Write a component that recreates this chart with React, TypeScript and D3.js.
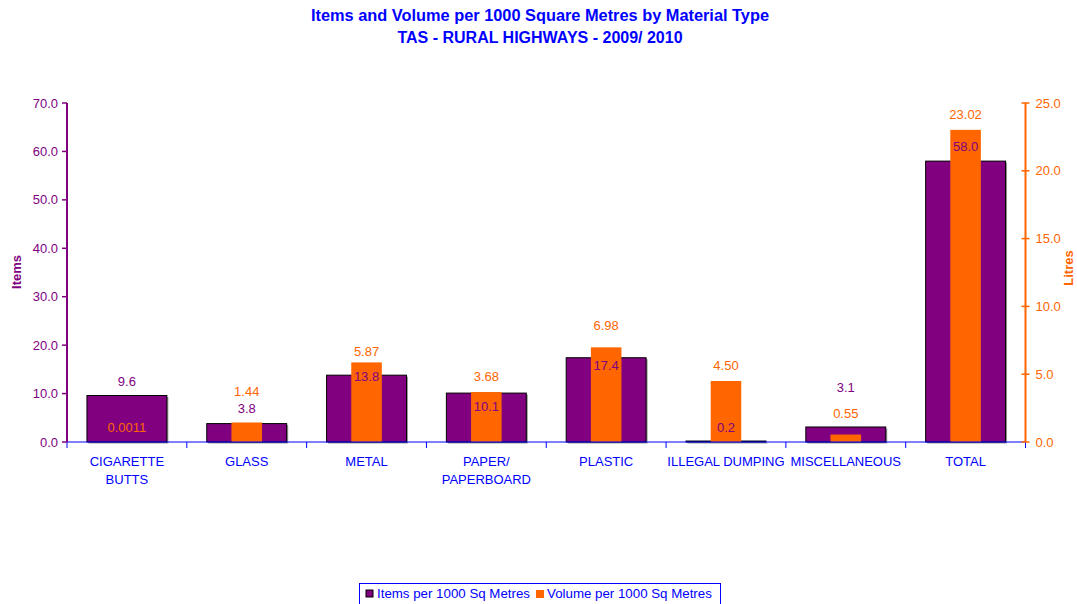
import React from "react";
import * as d3 from "d3";

const categories = [
  ["CIGARETTE", "BUTTS"],
  ["GLASS"],
  ["METAL"],
  ["PAPER/", "PAPERBOARD"],
  ["PLASTIC"],
  ["ILLEGAL DUMPING"],
  ["MISCELLANEOUS"],
  ["TOTAL"],
];
const itemsValues = [9.6, 3.8, 13.8, 10.1, 17.4, 0.2, 3.1, 58.0];
const volumeValues = [0.0011, 1.44, 5.87, 3.68, 6.98, 4.5, 0.55, 23.02];
const itemsLabels = ["9.6", "3.8", "13.8", "10.1", "17.4", "0.2", "3.1", "58.0"];
const volumeLabels = ["0.0011", "1.44", "5.87", "3.68", "6.98", "4.50", "0.55", "23.02"];
const leftTicks = [0, 10, 20, 30, 40, 50, 60, 70];
const rightTicks = [0, 5, 10, 15, 20, 25];

// label placement offsets (px above the bar top), styling only
const itemsLabelLift = [14, 15, -1, -13, -8, 14, 39, 15];
const volumeLabelLift = [14, 31, 11, 16, 22, 15, 21, 15];

const PURPLE = "#800080";
const ORANGE = "#FF6600";
const BLUE = "#0000FF";
const FONT = "'Liberation Sans', Arial, sans-serif";

export default function App() {
  const W = 1077, H = 604;
  const left = 67, right = 1025.5, top = 103, bottom = 442;
  const x = d3.scaleBand<number>().domain(d3.range(categories.length)).range([left, right]).padding(0);
  const yL = d3.scaleLinear().domain([0, 70]).range([bottom, top]);
  const yR = d3.scaleLinear().domain([0, 25]).range([bottom, top]);
  const bw = x.bandwidth();
  const itemW = bw * 0.667;
  const volW = bw * 0.255;

  return (
    <div style={{ position: "absolute", left: 0, top: 0, margin: 0 }}>
      <svg width={W} height={H} style={{ display: "block", fontFamily: FONT }}>
        <rect width={W} height={H} fill="#fff" />
        <text x={540} y={21} textAnchor="middle" fill={BLUE} fontWeight="bold" fontSize={16} textLength={458} lengthAdjust="spacingAndGlyphs">
          Items and Volume per 1000 Square Metres by Material Type
        </text>
        <text x={540} y={43} textAnchor="middle" fill={BLUE} fontWeight="bold" fontSize={16}>
          TAS - RURAL HIGHWAYS - 2009/ 2010
        </text>

        {/* bars */}
        {itemsValues.map((v, i) => {
          const cx = (x(i) as number) + bw / 2;
          return (
            <g key={"i" + i}>
              <rect x={cx - itemW / 2 + 1.5} y={yL(v) + 1.5} width={itemW} height={bottom - yL(v)} fill="#9a9a9a" />
              <rect x={cx - itemW / 2} y={yL(v)} width={itemW} height={bottom - yL(v)} fill={PURPLE} stroke="#000" strokeWidth={1} />
            </g>
          );
        })}
        {volumeValues.map((v, i) => {
          const cx = (x(i) as number) + bw / 2;
          return <rect key={"v" + i} x={cx - volW / 2} y={yR(v)} width={volW} height={bottom - yR(v)} fill={ORANGE} />;
        })}

        {/* x axis */}
        <line x1={left} x2={right} y1={bottom} y2={bottom} stroke={BLUE} strokeWidth={1} />
        {d3.range(categories.length + 1).map((i) => {
          const xx = i < categories.length ? (x(i) as number) : right;
          return <line key={"xt" + i} x1={xx} x2={xx} y1={bottom} y2={bottom + 6} stroke={BLUE} />;
        })}
        {categories.map((lines, i) => {
          const cx = (x(i) as number) + bw / 2;
          return (
            <text key={"c" + i} x={cx} textAnchor="middle" fill={BLUE} fontSize={13}>
              {lines.map((l, j) => (
                <tspan key={j} x={cx} y={466 + j * 18}>{l}</tspan>
              ))}
            </text>
          );
        })}

        {/* left axis */}
        <line x1={left} x2={left} y1={top} y2={bottom} stroke={PURPLE} strokeWidth={2} />
        {leftTicks.map((t) => (
          <g key={"l" + t}>
            <line x1={left - 5} x2={left} y1={yL(t)} y2={yL(t)} stroke={PURPLE} strokeWidth={1.5} />
            <text x={left - 9} y={yL(t) + 4.5} textAnchor="end" fill={PURPLE} fontSize={13}>{t.toFixed(1)}</text>
          </g>
        ))}
        <text transform={`translate(21,272) rotate(-90)`} textAnchor="middle" fill={PURPLE} fontWeight="bold" fontSize={13}>Items</text>

        {/* right axis */}
        <line x1={right} x2={right} y1={top} y2={bottom} stroke={ORANGE} strokeWidth={2} />
        {rightTicks.map((t) => (
          <g key={"r" + t}>
            <line x1={right - 4} x2={right + 4} y1={yR(t)} y2={yR(t)} stroke={ORANGE} strokeWidth={1.5} />
            <text x={right + 10} y={yR(t) + 4.5} textAnchor="start" fill={ORANGE} fontSize={13}>{t.toFixed(1)}</text>
          </g>
        ))}
        <text transform={`translate(1073,268) rotate(-90)`} textAnchor="middle" fill={ORANGE} fontWeight="bold" fontSize={13}>Litres</text>

        {/* data labels */}
        {itemsValues.map((v, i) => {
          const cx = (x(i) as number) + bw / 2;
          return (
            <text key={"il" + i} x={cx} y={yL(v) - itemsLabelLift[i] + 4.5} textAnchor="middle" fill={PURPLE} fontSize={13}>{itemsLabels[i]}</text>
          );
        })}
        {volumeValues.map((v, i) => {
          const cx = (x(i) as number) + bw / 2;
          return (
            <text key={"vl" + i} x={cx} y={yR(v) - volumeLabelLift[i] + 4.5} textAnchor="middle" fill={ORANGE} fontSize={13}>{volumeLabels[i]}</text>
          );
        })}

        {/* legend */}
        <rect x={359.5} y={583.5} width={361} height={25} fill="#fff" stroke={BLUE} strokeWidth={1} />
        <rect x={366} y={590} width={7} height={7} fill={PURPLE} stroke="#000" strokeWidth={1} />
        <text x={377} y={598} fill={BLUE} fontSize={13.3}>Items per 1000 Sq Metres</text>
        <rect x={536} y={590} width={8} height={8} fill={ORANGE} />
        <text x={547} y={598} fill={BLUE} fontSize={13.3}>Volume per 1000 Sq Metres</text>
      </svg>
    </div>
  );
}
